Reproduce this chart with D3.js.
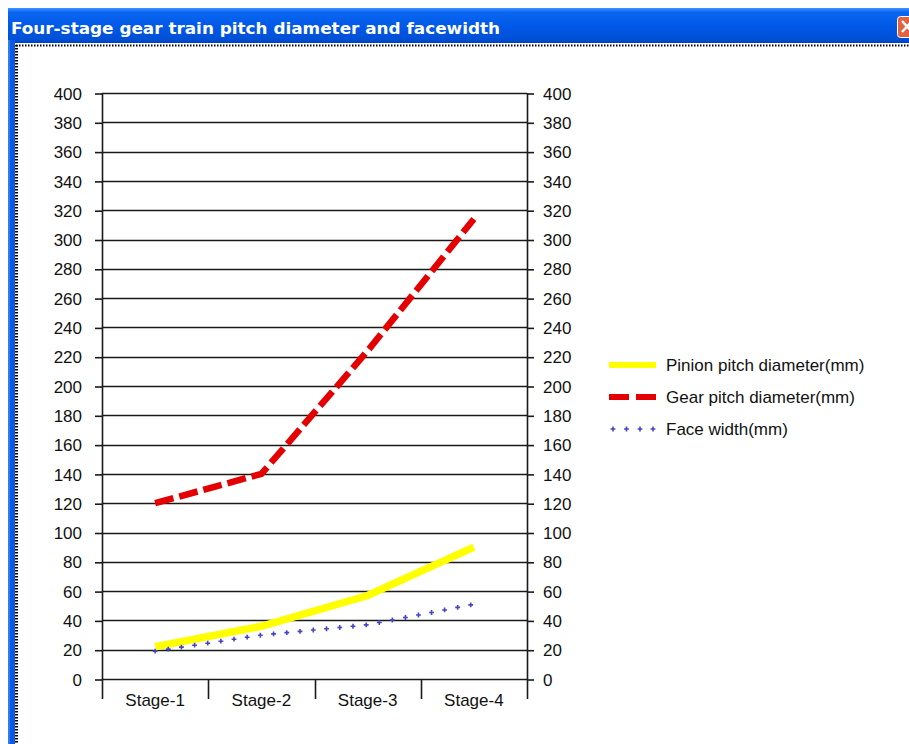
<!DOCTYPE html>
<html>
<head>
<meta charset="utf-8">
<script src="https://cdn.jsdelivr.net/npm/d3@7"></script>
<style>
  html, body { margin: 0; padding: 0; background: #fff; }
  svg { display: block; }
</style>
</head>
<body>
<svg id="chart" width="909" height="744"></svg>
<script>
// Gear train data per stage
const categories = ["Stage-1", "Stage-2", "Stage-3", "Stage-4"];
const pinionPitch = [22, 36, 57, 90];
const gearPitch = [120, 140, 224, 314];
const faceWidth = [19, 30, 37, 51];
const yTickValues = [0, 20, 40, 60, 80, 100, 120, 140, 160, 180, 200,
                     220, 240, 260, 280, 300, 320, 340, 360, 380, 400];
const seriesNames = ["Pinion pitch diameter(mm)", "Gear pitch diameter(mm)", "Face width(mm)"];
const titleText = "Four-stage gear train pitch diameter and facewidth";

const svg = d3.select("#chart");
const FONT = "'Liberation Sans', Arial, sans-serif";

// ---- window frame ----
const defs = svg.append("defs");
const grad = defs.append("linearGradient").attr("id", "titleGrad")
  .attr("x1", 0).attr("y1", 0).attr("x2", 0).attr("y2", 1);
grad.append("stop").attr("offset", "0%").attr("stop-color", "#3d95ff");
grad.append("stop").attr("offset", "12%").attr("stop-color", "#0a66f0");
grad.append("stop").attr("offset", "55%").attr("stop-color", "#0058e6");
grad.append("stop").attr("offset", "90%").attr("stop-color", "#0050d6");
grad.append("stop").attr("offset", "100%").attr("stop-color", "#0042b8");

svg.append("rect").attr("x", 8).attr("y", 8).attr("width", 901).attr("height", 35)
  .attr("fill", "url(#titleGrad)");
svg.append("rect").attr("x", 8).attr("y", 40).attr("width", 7).attr("height", 704)
  .attr("fill", "#0a5ae4");
svg.append("rect").attr("x", 8).attr("y", 40).attr("width", 2).attr("height", 704)
  .attr("fill", "#2f7bf0");

svg.append("text")
  .attr("x", 11).attr("y", 34)
  .attr("font-family", "'DejaVu Sans Condensed', 'DejaVu Sans', sans-serif")
  .attr("font-weight", "bold")
  .attr("font-size", 16)
  .attr("textLength", 489)
  .attr("lengthAdjust", "spacingAndGlyphs")
  .attr("fill", "#ffffff")
  .text(titleText);

// close button (partly outside the frame)
svg.append("rect").attr("x", 897.5).attr("y", 16.5).attr("width", 22).attr("height", 21)
  .attr("rx", 3).attr("fill", "#e2633f").attr("stroke", "#ffffff").attr("stroke-width", 1);
svg.append("path").attr("d", "M902,21 L912,32 M912,21 L902,32")
  .attr("stroke", "#ffffff").attr("stroke-width", 2.5);

// dotted client-area border
svg.append("line").attr("x1", 16).attr("x2", 909).attr("y1", 45.5).attr("y2", 45.5)
  .attr("stroke", "#000").attr("stroke-width", 2).attr("stroke-dasharray", "1.5,1.5");
svg.append("line").attr("x1", 16.5).attr("x2", 16.5).attr("y1", 45).attr("y2", 744)
  .attr("stroke", "#000").attr("stroke-width", 3).attr("stroke-dasharray", "1.5,1.5");

// ---- chart ----
const plot = { left: 102, right: 527, top: 93, bottom: 679 };

const x = d3.scaleBand().domain(categories).range([plot.left, plot.right]);
const y = d3.scaleLinear().domain([0, 400]).range([plot.bottom, plot.top]);
const cx = c => x(c) + x.bandwidth() / 2;

// horizontal gridlines
svg.append("g").selectAll("line").data(yTickValues).join("line")
  .attr("x1", plot.left).attr("x2", plot.right)
  .attr("y1", d => Math.round(y(d)) + 0.5).attr("y2", d => Math.round(y(d)) + 0.5)
  .attr("stroke", "#1a1a1a").attr("stroke-width", 1.6);

// left value axis
const leftAxis = svg.append("g")
  .attr("transform", `translate(${plot.left},0)`)
  .call(d3.axisLeft(y).tickValues(yTickValues).tickSize(7).tickPadding(13)
    .tickFormat(d3.format("d")));
// right value axis
const rightAxis = svg.append("g")
  .attr("transform", `translate(${plot.right},0)`)
  .call(d3.axisRight(y).tickValues(yTickValues).tickSize(7).tickPadding(9)
    .tickFormat(d3.format("d")));

[leftAxis, rightAxis].forEach(g => {
  g.select(".domain").remove();
  g.selectAll(".tick line").attr("stroke", "#1a1a1a").attr("stroke-width", 1.6)
    .attr("transform", "translate(0,0.5)");
  g.selectAll(".tick text").attr("font-family", FONT).attr("font-size", 17)
    .attr("fill", "#111").attr("dy", "0.36em");
});

// vertical axis lines and category separators
const sepX = categories.map(c => x(c)).concat([plot.right]);
svg.append("g").selectAll("line").data(sepX).join("line")
  .attr("x1", d => Math.round(d) + 0.5).attr("x2", d => Math.round(d) + 0.5)
  .attr("y1", (d, i) => (i === 0 || i === sepX.length - 1) ? plot.top : plot.bottom)
  .attr("y2", plot.bottom + 20)
  .attr("stroke", "#1a1a1a").attr("stroke-width", 1.6);

// category labels
svg.append("g").selectAll("text").data(categories).join("text")
  .attr("x", d => cx(d)).attr("y", 706)
  .attr("text-anchor", "middle")
  .attr("font-family", FONT).attr("font-size", 17).attr("fill", "#111")
  .text(d => d);

// ---- series ----
const line = d3.line().x(d => cx(d.c)).y(d => y(d.v));
const toPts = arr => categories.map((c, i) => ({ c, v: arr[i] }));

svg.append("path").datum(toPts(pinionPitch))
  .attr("d", line).attr("fill", "none")
  .attr("stroke", "#ffff00").attr("stroke-width", 7.5);

svg.append("path").datum(toPts(gearPitch))
  .attr("d", line).attr("fill", "none")
  .attr("stroke", "#e40000").attr("stroke-width", 6.5)
  .attr("stroke-dasharray", "19,6");

// face width drawn as a row of small crosses along its polyline
const cross = d3.symbol().type(d3.symbolCross).size(13);
const fwPath = svg.append("path").datum(toPts(faceWidth))
  .attr("d", line).attr("fill", "none").attr("stroke", "none");
const fwNode = fwPath.node();
const fwLen = fwNode.getTotalLength();
const fwMarks = d3.range(0, fwLen + 0.1, 13.3).map(l => fwNode.getPointAtLength(l));
svg.append("g").selectAll("path").data(fwMarks).join("path")
  .attr("d", cross)
  .attr("transform", p => `translate(${p.x},${p.y})`)
  .attr("fill", "#4646c4");

// ---- legend ----
const legend = svg.append("g").attr("transform", "translate(609,0)");
const legendY = [365, 397, 429];

legend.append("line").attr("x1", 0).attr("x2", 47).attr("y1", legendY[0]).attr("y2", legendY[0])
  .attr("stroke", "#ffff00").attr("stroke-width", 6);
legend.append("line").attr("x1", 0).attr("x2", 47).attr("y1", legendY[1]).attr("y2", legendY[1])
  .attr("stroke", "#e40000").attr("stroke-width", 6).attr("stroke-dasharray", "20,7");
legend.append("g").selectAll("path").data([4, 17.5, 31, 44]).join("path")
  .attr("d", cross)
  .attr("transform", d => `translate(${d},${legendY[2]})`)
  .attr("fill", "#4646c4");

legend.selectAll("text.lbl").data(seriesNames).join("text")
  .attr("class", "lbl")
  .attr("x", 57).attr("y", (d, i) => legendY[i])
  .attr("dy", "0.36em")
  .attr("font-family", FONT).attr("font-size", 17).attr("fill", "#111")
  .text(d => d);
</script>
</body>
</html>
